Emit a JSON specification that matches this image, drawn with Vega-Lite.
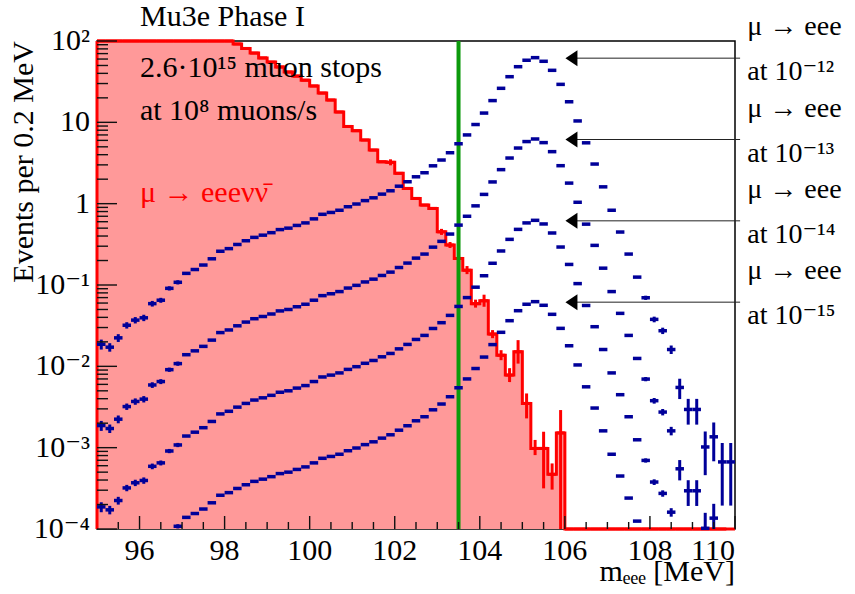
{
"$schema": "https://vega.github.io/schema/vega-lite/v6.json",
"width": 638, "height": 488,
"autosize": {"type": "none"},
"padding": {"left": 97, "top": 41, "right": 120, "bottom": 65},
"background": "white",
"config": {
  "font": "Liberation Serif, DejaVu Serif",
  "view": {"stroke": "black", "strokeWidth": 1.5}
},
"datasets": {
  "red": [
    {"lo":95.0,"hi":95.2,"n":652},{"lo":95.2,"hi":95.4,"n":577},{"lo":95.4,"hi":95.6,"n":511},{"lo":95.6,"hi":95.8,"n":452},
    {"lo":95.8,"hi":96.0,"n":400},{"lo":96.0,"hi":96.2,"n":354},{"lo":96.2,"hi":96.4,"n":313},{"lo":96.4,"hi":96.6,"n":277},
    {"lo":96.6,"hi":96.8,"n":245},{"lo":96.8,"hi":97.0,"n":217},{"lo":97.0,"hi":97.2,"n":192},{"lo":97.2,"hi":97.4,"n":170},
    {"lo":97.4,"hi":97.6,"n":150},{"lo":97.6,"hi":97.8,"n":133},{"lo":97.8,"hi":98.0,"n":118},{"lo":98.0,"hi":98.2,"n":104},
    {"lo":98.2,"hi":98.4,"n":92},{"lo":98.4,"hi":98.6,"n":81},{"lo":98.6,"hi":98.8,"n":71},{"lo":98.8,"hi":99.0,"n":62},
    {"lo":99.0,"hi":99.2,"n":55},{"lo":99.2,"hi":99.4,"n":48},{"lo":99.4,"hi":99.6,"n":41.6},{"lo":99.6,"hi":99.8,"n":37},
    {"lo":99.8,"hi":100.0,"n":33},{"lo":100.0,"hi":100.2,"n":28},{"lo":100.2,"hi":100.4,"n":22.9},{"lo":100.4,"hi":100.6,"n":18.8},
    {"lo":100.6,"hi":100.8,"n":13.4},{"lo":100.8,"hi":101.0,"n":8.9},{"lo":101.0,"hi":101.2,"n":7.9},{"lo":101.2,"hi":101.4,"n":6.06},
    {"lo":101.4,"hi":101.6,"n":4.56},{"lo":101.6,"hi":101.8,"n":3.27},{"lo":101.8,"hi":102.0,"n":3.22},{"lo":102.0,"hi":102.2,"n":2.36},
    {"lo":102.2,"hi":102.4,"n":1.54},{"lo":102.4,"hi":102.6,"n":1.16},{"lo":102.6,"hi":102.8,"n":0.96},{"lo":102.8,"hi":103.0,"n":0.875},
    {"lo":103.0,"hi":103.2,"n":0.45},{"lo":103.2,"hi":103.4,"n":0.31},{"lo":103.4,"hi":103.6,"n":0.212},{"lo":103.6,"hi":103.8,"n":0.152},
    {"lo":103.8,"hi":104.0,"n":0.059},{"lo":104.0,"hi":104.2,"n":0.064},{"lo":104.2,"hi":104.4,"n":0.0249},{"lo":104.4,"hi":104.6,"n":0.0137},
    {"lo":104.6,"hi":104.8,"n":0.0078},{"lo":104.8,"hi":105.0,"n":0.0151},{"lo":105.0,"hi":105.2,"n":0.0035},{"lo":105.2,"hi":105.4,"n":0.00098},
    {"lo":105.4,"hi":105.6,"n":0.00098},{"lo":105.6,"hi":105.8,"n":0.00047},{"lo":105.8,"hi":106.0,"n":0.00152},
    {"lo":106.0,"hi":106.2,"n":0},{"lo":106.2,"hi":106.4,"n":0},{"lo":106.4,"hi":106.6,"n":0},{"lo":106.6,"hi":106.8,"n":0},
    {"lo":106.8,"hi":107.0,"n":0},{"lo":107.0,"hi":107.2,"n":0},{"lo":107.2,"hi":107.4,"n":0},{"lo":107.4,"hi":107.6,"n":0},
    {"lo":107.6,"hi":107.8,"n":0},{"lo":107.8,"hi":108.0,"n":0},{"lo":108.0,"hi":108.2,"n":0},{"lo":108.2,"hi":108.4,"n":0},
    {"lo":108.4,"hi":108.6,"n":0},{"lo":108.6,"hi":108.8,"n":0},{"lo":108.8,"hi":109.0,"n":0},{"lo":109.0,"hi":109.2,"n":0},
    {"lo":109.2,"hi":109.4,"n":0},{"lo":109.4,"hi":109.6,"n":0},{"lo":109.6,"hi":109.8,"n":0},{"lo":109.8,"hi":110.0,"n":0}
  ],
  "rederr": [
    {"x":101.9,"el":2.96,"eh":3.51},{"x":103.1,"el":0.413,"eh":0.49},{"x":103.3,"el":0.285,"eh":0.338},
    {"x":103.5,"el":0.189,"eh":0.238},{"x":103.7,"el":0.136,"eh":0.171},{"x":103.9,"el":0.0527,"eh":0.0661},
    {"x":104.1,"el":0.054,"eh":0.076},{"x":104.3,"el":0.0222,"eh":0.0279},{"x":104.5,"el":0.0119,"eh":0.0158},
    {"x":104.7,"el":0.0064,"eh":0.0095},{"x":104.9,"el":0.0108,"eh":0.021},{"x":105.1,"el":0.00229,"eh":0.00464},
    {"x":105.3,"el":0.00081,"eh":0.001245},{"x":105.5,"el":0.000316,"eh":0.00157},{"x":105.7,"el":0.000305,"eh":0.00064},
    {"x":105.9,"el":0.00005,"eh":0.0029}
  ],
  "xmajor": [{"tick":96,"label":"96"},{"tick":98,"label":"98"},{"tick":100,"label":"100"},{"tick":102,"label":"102"},{"tick":104,"label":"104"},{"tick":106,"label":"106"},{"tick":108,"label":"108"},{"tick":110,"label":"110"}],
  "xminor": [{"tick":95.5},{"tick":96.5},{"tick":97},{"tick":97.5},{"tick":98.5},{"tick":99},{"tick":99.5},{"tick":100.5},{"tick":101},{"tick":101.5},{"tick":102.5},{"tick":103},{"tick":103.5},{"tick":104.5},{"tick":105},{"tick":105.5},{"tick":106.5},{"tick":107},{"tick":107.5},{"tick":108.5},{"tick":109},{"tick":109.5}],
  "ymajor": [{"tick":0.0001,"label":"10⁻⁴"},{"tick":0.001,"label":"10⁻³"},{"tick":0.01,"label":"10⁻²"},{"tick":0.1,"label":"10⁻¹"},{"tick":1,"label":"1"},{"tick":10,"label":"10"},{"tick":100,"label":"10²"}],
  "yminor": [
    {"tick":0.0002},{"tick":0.0003},{"tick":0.0004},{"tick":0.0005},{"tick":0.0006},{"tick":0.0007},{"tick":0.0008},{"tick":0.0009},
    {"tick":0.002},{"tick":0.003},{"tick":0.004},{"tick":0.005},{"tick":0.006},{"tick":0.007},{"tick":0.008},{"tick":0.009},
    {"tick":0.02},{"tick":0.03},{"tick":0.04},{"tick":0.05},{"tick":0.06},{"tick":0.07},{"tick":0.08},{"tick":0.09},
    {"tick":0.2},{"tick":0.3},{"tick":0.4},{"tick":0.5},{"tick":0.6},{"tick":0.7},{"tick":0.8},{"tick":0.9},
    {"tick":2},{"tick":3},{"tick":4},{"tick":5},{"tick":6},{"tick":7},{"tick":8},{"tick":9},
    {"tick":20},{"tick":30},{"tick":40},{"tick":50},{"tick":60},{"tick":70},{"tick":80},{"tick":90}
  ],
  "sig": [
    {"s":"12","x":95.1,"y":0.0187,"el":0.01608,"eh":0.02132},{"s":"12","x":95.3,"y":0.0172,"el":0.01514,"eh":0.01926},
    {"s":"12","x":95.5,"y":0.0224,"el":0.01994,"eh":0.02486},{"s":"12","x":95.7,"y":0.032,"el":0.02912,"eh":0.03488},
    {"s":"12","x":95.9,"y":0.037,"el":0.03367,"eh":0.04033},{"s":"12","x":96.1,"y":0.0395,"el":0.03595,"eh":0.04306},
    {"s":"12","x":96.3,"y":0.059,"el":0.05428,"eh":0.06372},{"s":"12","x":96.5,"y":0.065,"el":0.06045,"eh":0.06955},
    {"s":"12","x":96.7,"y":0.091,"el":0.08554,"eh":0.09646},{"s":"12","x":96.9,"y":0.108,"el":0.10152,"eh":0.11448},
    {"s":"12","x":97.1,"y":0.139},{"s":"12","x":97.3,"y":0.155},{"s":"12","x":97.5,"y":0.176},{"s":"12","x":97.7,"y":0.21},
    {"s":"12","x":97.9,"y":0.26},{"s":"12","x":98.1,"y":0.28},{"s":"12","x":98.3,"y":0.315},{"s":"12","x":98.5,"y":0.35},
    {"s":"12","x":98.7,"y":0.385},{"s":"12","x":98.9,"y":0.41},{"s":"12","x":99.1,"y":0.44},{"s":"12","x":99.3,"y":0.48},
    {"s":"12","x":99.5,"y":0.5},{"s":"12","x":99.7,"y":0.54},{"s":"12","x":99.9,"y":0.58},{"s":"12","x":100.1,"y":0.65},
    {"s":"12","x":100.3,"y":0.74},{"s":"12","x":100.5,"y":0.78},{"s":"12","x":100.7,"y":0.83},{"s":"12","x":100.9,"y":0.917},
    {"s":"12","x":101.1,"y":0.99},{"s":"12","x":101.3,"y":1.09},{"s":"12","x":101.5,"y":1.18},{"s":"12","x":101.7,"y":1.31},
    {"s":"12","x":101.9,"y":1.44},{"s":"12","x":102.1,"y":1.64},{"s":"12","x":102.3,"y":1.86},{"s":"12","x":102.5,"y":2.14},
    {"s":"12","x":102.7,"y":2.4},{"s":"12","x":102.9,"y":2.92},{"s":"12","x":103.1,"y":3.44},{"s":"12","x":103.3,"y":4.23},
    {"s":"12","x":103.5,"y":5.45},{"s":"12","x":103.7,"y":7.0},{"s":"12","x":103.9,"y":9.4},{"s":"12","x":104.1,"y":13.0},
    {"s":"12","x":104.3,"y":18.5},{"s":"12","x":104.5,"y":26.2},{"s":"12","x":104.7,"y":36.4},{"s":"12","x":104.9,"y":48.3},
    {"s":"12","x":105.1,"y":58},{"s":"12","x":105.3,"y":62.4},{"s":"12","x":105.5,"y":56.3},{"s":"12","x":105.7,"y":43.6},
    {"s":"12","x":105.9,"y":29.3},{"s":"12","x":106.1,"y":17.9},{"s":"12","x":106.3,"y":10.4},{"s":"12","x":106.5,"y":5.6},
    {"s":"12","x":106.7,"y":3.07},{"s":"12","x":106.9,"y":1.61},{"s":"12","x":107.1,"y":0.83},{"s":"12","x":107.3,"y":0.448},
    {"s":"12","x":107.5,"y":0.24},{"s":"12","x":107.7,"y":0.125},
    {"s":"12","x":107.9,"y":0.0697,"el":0.06552,"eh":0.07388},{"s":"12","x":108.1,"y":0.0378,"el":0.03478,"eh":0.04082},
    {"s":"12","x":108.3,"y":0.0274,"el":0.02493,"eh":0.02987},{"s":"12","x":108.5,"y":0.0161,"el":0.01417,"eh":0.01803},
    {"s":"12","x":108.7,"y":0.0055,"el":0.00396,"eh":0.00704},{"s":"12","x":108.9,"y":0.00295,"el":0.00192,"eh":0.00398},
    {"s":"12","x":109.1,"y":0.00295,"el":0.00192,"eh":0.00398},{"s":"12","x":109.3,"y":0.00102,"el":0.000459,"eh":0.001581},
    {"s":"12","x":109.5,"y":0.00136,"el":0.00068,"eh":0.00204},{"s":"12","x":109.7,"y":0.000668,"el":0.000194,"eh":0.001141},
    {"s":"12","x":109.9,"y":0.000668,"el":0.000194,"eh":0.001141},

    {"s":"13","x":95.1,"y":0.00187,"el":0.001608,"eh":0.002132},{"s":"13","x":95.3,"y":0.00172,"el":0.001514,"eh":0.001926},
    {"s":"13","x":95.5,"y":0.00224,"el":0.001994,"eh":0.002486},{"s":"13","x":95.7,"y":0.0032,"el":0.002912,"eh":0.003488},
    {"s":"13","x":95.9,"y":0.0037,"el":0.003367,"eh":0.004033},{"s":"13","x":96.1,"y":0.00395,"el":0.003595,"eh":0.004306},
    {"s":"13","x":96.3,"y":0.0059,"el":0.005428,"eh":0.006372},{"s":"13","x":96.5,"y":0.0065,"el":0.006045,"eh":0.006955},
    {"s":"13","x":96.7,"y":0.0091,"el":0.008554,"eh":0.009646},{"s":"13","x":96.9,"y":0.0108,"el":0.010152,"eh":0.011448},
    {"s":"13","x":97.1,"y":0.0139},{"s":"13","x":97.3,"y":0.0155},{"s":"13","x":97.5,"y":0.0176},{"s":"13","x":97.7,"y":0.021},
    {"s":"13","x":97.9,"y":0.026},{"s":"13","x":98.1,"y":0.028},{"s":"13","x":98.3,"y":0.0315},{"s":"13","x":98.5,"y":0.035},
    {"s":"13","x":98.7,"y":0.0385},{"s":"13","x":98.9,"y":0.041},{"s":"13","x":99.1,"y":0.044},{"s":"13","x":99.3,"y":0.048},
    {"s":"13","x":99.5,"y":0.05},{"s":"13","x":99.7,"y":0.054},{"s":"13","x":99.9,"y":0.058},{"s":"13","x":100.1,"y":0.065},
    {"s":"13","x":100.3,"y":0.074},{"s":"13","x":100.5,"y":0.078},{"s":"13","x":100.7,"y":0.083},{"s":"13","x":100.9,"y":0.0917},
    {"s":"13","x":101.1,"y":0.099},{"s":"13","x":101.3,"y":0.109},{"s":"13","x":101.5,"y":0.118},{"s":"13","x":101.7,"y":0.131},
    {"s":"13","x":101.9,"y":0.144},{"s":"13","x":102.1,"y":0.164},{"s":"13","x":102.3,"y":0.186},{"s":"13","x":102.5,"y":0.214},
    {"s":"13","x":102.7,"y":0.24},{"s":"13","x":102.9,"y":0.292},{"s":"13","x":103.1,"y":0.344},{"s":"13","x":103.3,"y":0.423},
    {"s":"13","x":103.5,"y":0.545},{"s":"13","x":103.7,"y":0.7},{"s":"13","x":103.9,"y":0.94},{"s":"13","x":104.1,"y":1.3},
    {"s":"13","x":104.3,"y":1.85},{"s":"13","x":104.5,"y":2.62},{"s":"13","x":104.7,"y":3.64},{"s":"13","x":104.9,"y":4.83},
    {"s":"13","x":105.1,"y":5.8},{"s":"13","x":105.3,"y":6.24},{"s":"13","x":105.5,"y":5.63},{"s":"13","x":105.7,"y":4.36},
    {"s":"13","x":105.9,"y":2.93},{"s":"13","x":106.1,"y":1.79},{"s":"13","x":106.3,"y":1.04},{"s":"13","x":106.5,"y":0.56},
    {"s":"13","x":106.7,"y":0.307},{"s":"13","x":106.9,"y":0.161},{"s":"13","x":107.1,"y":0.083},{"s":"13","x":107.3,"y":0.0448},
    {"s":"13","x":107.5,"y":0.024},{"s":"13","x":107.7,"y":0.0125},
    {"s":"13","x":107.9,"y":0.00697,"el":0.006552,"eh":0.007388},{"s":"13","x":108.1,"y":0.00378,"el":0.003478,"eh":0.004082},
    {"s":"13","x":108.3,"y":0.00274,"el":0.002493,"eh":0.002987},{"s":"13","x":108.5,"y":0.00161,"el":0.001417,"eh":0.001803},
    {"s":"13","x":108.7,"y":0.00055,"el":0.000396,"eh":0.000704},{"s":"13","x":108.9,"y":0.000295,"el":0.000192,"eh":0.000398},
    {"s":"13","x":109.1,"y":0.000295,"el":0.000192,"eh":0.000398},{"s":"13","x":109.3,"y":0.000102,"el":0.0000459,"eh":0.0001581},
    {"s":"13","x":109.5,"y":0.000136,"el":0.000068,"eh":0.000204},

    {"s":"14","x":95.1,"y":0.000187,"el":0.0001608,"eh":0.0002132},{"s":"14","x":95.3,"y":0.000172,"el":0.0001514,"eh":0.0001926},
    {"s":"14","x":95.5,"y":0.000224,"el":0.0001994,"eh":0.0002486},{"s":"14","x":95.7,"y":0.00032,"el":0.0002912,"eh":0.0003488},
    {"s":"14","x":95.9,"y":0.00037,"el":0.0003367,"eh":0.0004033},{"s":"14","x":96.1,"y":0.000395,"el":0.0003595,"eh":0.0004306},
    {"s":"14","x":96.3,"y":0.00059,"el":0.0005428,"eh":0.0006372},{"s":"14","x":96.5,"y":0.00065,"el":0.0006045,"eh":0.0006955},
    {"s":"14","x":96.7,"y":0.00091,"el":0.0008554,"eh":0.0009646},{"s":"14","x":96.9,"y":0.00108,"el":0.0010152,"eh":0.0011448},
    {"s":"14","x":97.1,"y":0.00139},{"s":"14","x":97.3,"y":0.00155},{"s":"14","x":97.5,"y":0.00176},{"s":"14","x":97.7,"y":0.0021},
    {"s":"14","x":97.9,"y":0.0026},{"s":"14","x":98.1,"y":0.0028},{"s":"14","x":98.3,"y":0.00315},{"s":"14","x":98.5,"y":0.0035},
    {"s":"14","x":98.7,"y":0.00385},{"s":"14","x":98.9,"y":0.0041},{"s":"14","x":99.1,"y":0.0044},{"s":"14","x":99.3,"y":0.0048},
    {"s":"14","x":99.5,"y":0.005},{"s":"14","x":99.7,"y":0.0054},{"s":"14","x":99.9,"y":0.0058},{"s":"14","x":100.1,"y":0.0065},
    {"s":"14","x":100.3,"y":0.0074},{"s":"14","x":100.5,"y":0.0078},{"s":"14","x":100.7,"y":0.0083},{"s":"14","x":100.9,"y":0.00917},
    {"s":"14","x":101.1,"y":0.0099},{"s":"14","x":101.3,"y":0.0109},{"s":"14","x":101.5,"y":0.0118},{"s":"14","x":101.7,"y":0.0131},
    {"s":"14","x":101.9,"y":0.0144},{"s":"14","x":102.1,"y":0.0164},{"s":"14","x":102.3,"y":0.0186},{"s":"14","x":102.5,"y":0.0214},
    {"s":"14","x":102.7,"y":0.024},{"s":"14","x":102.9,"y":0.0292},{"s":"14","x":103.1,"y":0.0344},{"s":"14","x":103.3,"y":0.0423},
    {"s":"14","x":103.5,"y":0.0545},{"s":"14","x":103.7,"y":0.07},{"s":"14","x":103.9,"y":0.094},{"s":"14","x":104.1,"y":0.13},
    {"s":"14","x":104.3,"y":0.185},{"s":"14","x":104.5,"y":0.262},{"s":"14","x":104.7,"y":0.364},{"s":"14","x":104.9,"y":0.483},
    {"s":"14","x":105.1,"y":0.58},{"s":"14","x":105.3,"y":0.624},{"s":"14","x":105.5,"y":0.563},{"s":"14","x":105.7,"y":0.436},
    {"s":"14","x":105.9,"y":0.293},{"s":"14","x":106.1,"y":0.179},{"s":"14","x":106.3,"y":0.104},{"s":"14","x":106.5,"y":0.056},
    {"s":"14","x":106.7,"y":0.0307},{"s":"14","x":106.9,"y":0.0161},{"s":"14","x":107.1,"y":0.0083},{"s":"14","x":107.3,"y":0.00448},
    {"s":"14","x":107.5,"y":0.0024},{"s":"14","x":107.7,"y":0.00125},
    {"s":"14","x":107.9,"y":0.000697,"el":0.0006552,"eh":0.0007388},{"s":"14","x":108.1,"y":0.000378,"el":0.0003478,"eh":0.0004082},
    {"s":"14","x":108.3,"y":0.000274,"el":0.0002493,"eh":0.0002987},{"s":"14","x":108.5,"y":0.000161,"el":0.0001417,"eh":0.0001803},

    {"s":"15","x":96.9,"y":0.000108,"el":0.00010152,"eh":0.00011448},
    {"s":"15","x":97.1,"y":0.000139},{"s":"15","x":97.3,"y":0.000155},{"s":"15","x":97.5,"y":0.000176},{"s":"15","x":97.7,"y":0.00021},
    {"s":"15","x":97.9,"y":0.00026},{"s":"15","x":98.1,"y":0.00028},{"s":"15","x":98.3,"y":0.000315},{"s":"15","x":98.5,"y":0.00035},
    {"s":"15","x":98.7,"y":0.000385},{"s":"15","x":98.9,"y":0.00041},{"s":"15","x":99.1,"y":0.00044},{"s":"15","x":99.3,"y":0.00048},
    {"s":"15","x":99.5,"y":0.0005},{"s":"15","x":99.7,"y":0.00054},{"s":"15","x":99.9,"y":0.00058},{"s":"15","x":100.1,"y":0.00065},
    {"s":"15","x":100.3,"y":0.00074},{"s":"15","x":100.5,"y":0.00078},{"s":"15","x":100.7,"y":0.00083},{"s":"15","x":100.9,"y":0.000917},
    {"s":"15","x":101.1,"y":0.00099},{"s":"15","x":101.3,"y":0.00109},{"s":"15","x":101.5,"y":0.00118},{"s":"15","x":101.7,"y":0.00131},
    {"s":"15","x":101.9,"y":0.00144},{"s":"15","x":102.1,"y":0.00164},{"s":"15","x":102.3,"y":0.00186},{"s":"15","x":102.5,"y":0.00214},
    {"s":"15","x":102.7,"y":0.0024},{"s":"15","x":102.9,"y":0.00292},{"s":"15","x":103.1,"y":0.00344},{"s":"15","x":103.3,"y":0.00423},
    {"s":"15","x":103.5,"y":0.00545},{"s":"15","x":103.7,"y":0.007},{"s":"15","x":103.9,"y":0.0094},{"s":"15","x":104.1,"y":0.013},
    {"s":"15","x":104.3,"y":0.0185},{"s":"15","x":104.5,"y":0.0262},{"s":"15","x":104.7,"y":0.0364},{"s":"15","x":104.9,"y":0.0483},
    {"s":"15","x":105.1,"y":0.058},{"s":"15","x":105.3,"y":0.0624},{"s":"15","x":105.5,"y":0.0563},{"s":"15","x":105.7,"y":0.0436},
    {"s":"15","x":105.9,"y":0.0293},{"s":"15","x":106.1,"y":0.0179},{"s":"15","x":106.3,"y":0.0104},{"s":"15","x":106.5,"y":0.0056},
    {"s":"15","x":106.7,"y":0.00307},{"s":"15","x":106.9,"y":0.00161},{"s":"15","x":107.1,"y":0.00083},{"s":"15","x":107.3,"y":0.000448},
    {"s":"15","x":107.5,"y":0.00024},{"s":"15","x":107.7,"y":0.000125}
  ],
  "arrows": [
    {"peak": 61.5, "label": "at 10⁻¹²"},
    {"peak": 6.15, "label": "at 10⁻¹³"},
    {"peak": 0.615, "label": "at 10⁻¹⁴"},
    {"peak": 0.0615, "label": "at 10⁻¹⁵"}
  ]
},
"layer": [
  {
    "data": {"name": "red"},
    "mark": {"type": "area", "interpolate": "step-after", "color": "#ff9999", "opacity": 1},
    "encoding": {
      "x": {"field": "lo", "type": "quantitative", "scale": {"domain": [95, 110], "nice": false, "zero": false}, "axis": null},
      "y": {"field": "n", "type": "quantitative", "scale": {"type": "log", "domain": [0.0001, 100], "nice": false, "clamp": true}, "axis": null},
      "y2": {"datum": 0.0001}
    }
  },
  {
    "data": {"name": "red"},
    "mark": {"type": "line", "interpolate": "step-after", "color": "#ff0000", "strokeWidth": 3},
    "encoding": {
      "x": {"field": "lo", "type": "quantitative", "axis": null},
      "y": {"field": "n", "type": "quantitative", "axis": null}
    }
  },
  {
    "data": {"name": "red"},
    "mark": {"type": "rule", "color": "#ff0000", "strokeWidth": 3},
    "encoding": {
      "x": {"field": "lo", "type": "quantitative", "axis": null},
      "x2": {"field": "hi"},
      "y": {"field": "n", "type": "quantitative", "axis": null}
    }
  },
  {
    "data": {"name": "red"},
    "transform": [{"filter": "datum.lo == 95"}],
    "mark": {"type": "rule", "color": "#ff0000", "strokeWidth": 3},
    "encoding": {
      "x": {"field": "lo", "type": "quantitative", "axis": null},
      "y": {"field": "n", "type": "quantitative", "axis": null},
      "y2": {"datum": 0.0001}
    }
  },
  {
    "data": {"name": "rederr"},
    "mark": {"type": "rule", "color": "#ff0000", "strokeWidth": 3},
    "encoding": {
      "x": {"field": "x", "type": "quantitative", "axis": null},
      "y": {"field": "el", "type": "quantitative", "axis": null},
      "y2": {"field": "eh"}
    }
  },
  {
    "data": {"values": [{}]},
    "mark": {"type": "rule", "color": "#0c9a0c", "strokeWidth": 4},
    "encoding": {
      "x": {"datum": 103.5, "type": "quantitative", "axis": null},
      "y": {"datum": 0.0001, "type": "quantitative", "axis": null},
      "y2": {"datum": 100}
    }
  },
  {
    "data": {"name": "sig"},
    "transform": [{"filter": "isValid(datum.el)"}],
    "mark": {"type": "rule", "color": "#000099", "strokeWidth": 3},
    "encoding": {
      "x": {"field": "x", "type": "quantitative", "axis": null},
      "y": {"field": "el", "type": "quantitative", "axis": null},
      "y2": {"field": "eh"}
    }
  },
  {
    "data": {"name": "sig"},
    "mark": {"type": "tick", "orient": "horizontal", "size": 8.5, "thickness": 3.5, "color": "#000099", "opacity": 1},
    "encoding": {
      "x": {"field": "x", "type": "quantitative", "axis": null},
      "y": {"field": "y", "type": "quantitative", "axis": null}
    }
  },
  {
    "data": {"name": "arrows"},
    "mark": {"type": "rule", "color": "#222222", "strokeWidth": 1},
    "encoding": {
      "x": {"datum": 106.1, "type": "quantitative", "axis": null},
      "x2": {"datum": 110.12},
      "y": {"field": "peak", "type": "quantitative", "axis": null}
    }
  },
  {
    "data": {"name": "arrows"},
    "mark": {"type": "point", "shape": "M-1,0L1,-1.33L1,1.33Z", "filled": true, "color": "black", "size": 144, "opacity": 1},
    "encoding": {
      "x": {"datum": 106.155, "type": "quantitative", "axis": null},
      "y": {"field": "peak", "type": "quantitative", "axis": null}
    }
  },
  {
    "data": {"name": "arrows"},
    "mark": {"type": "text", "text": "μ → eee", "align": "left", "baseline": "alphabetic", "fontSize": 28, "color": "black", "dy": -23},
    "encoding": {
      "x": {"datum": 110.29, "type": "quantitative", "axis": null},
      "y": {"field": "peak", "type": "quantitative", "axis": null}
    }
  },
  {
    "data": {"name": "arrows"},
    "mark": {"type": "text", "align": "left", "baseline": "alphabetic", "fontSize": 28, "color": "black", "dy": 22},
    "encoding": {
      "x": {"datum": 110.29, "type": "quantitative", "axis": null},
      "y": {"field": "peak", "type": "quantitative", "axis": null},
      "text": {"field": "label"}
    }
  },
  {
    "data": {"values": [{}]},
    "mark": {"type": "text", "text": "Mu3e Phase I", "align": "left", "baseline": "alphabetic", "fontSize": 30, "color": "black", "dy": -15},
    "encoding": {
      "x": {"datum": 96.01, "type": "quantitative", "axis": null},
      "y": {"datum": 100, "type": "quantitative", "axis": null}
    }
  },
  {
    "data": {"values": [{}]},
    "mark": {"type": "text", "text": "2.6·10¹⁵ muon stops", "align": "left", "baseline": "alphabetic", "fontSize": 30, "color": "black"},
    "encoding": {
      "x": {"datum": 96.01, "type": "quantitative", "axis": null},
      "y": {"datum": 36.4, "type": "quantitative", "axis": null}
    }
  },
  {
    "data": {"values": [{}]},
    "mark": {"type": "text", "text": "at 10⁸ muons/s", "align": "left", "baseline": "alphabetic", "fontSize": 30, "color": "black"},
    "encoding": {
      "x": {"datum": 96.01, "type": "quantitative", "axis": null},
      "y": {"datum": 10.67, "type": "quantitative", "axis": null}
    }
  },
  {
    "data": {"values": [{}]},
    "mark": {"type": "text", "text": "μ → eeeνν̄", "align": "left", "baseline": "alphabetic", "fontSize": 30, "color": "#ff0000"},
    "encoding": {
      "x": {"datum": 96.01, "type": "quantitative", "axis": null},
      "y": {"datum": 1.055, "type": "quantitative", "axis": null}
    }
  },
  {
    "data": {"name": "xmajor"},
    "transform": [{"filter": "datum.tick < 110"}],
    "mark": {"type": "text", "align": "center", "baseline": "top", "fontSize": 30, "color": "black", "dy": 7},
    "encoding": {
      "x": {"field": "tick", "type": "quantitative", "axis": null},
      "y": {"datum": 0.0001, "type": "quantitative", "axis": null},
      "text": {"field": "label"}
    }
  },
  {
    "data": {"name": "xmajor"},
    "transform": [{"filter": "datum.tick == 110"}],
    "mark": {"type": "text", "align": "right", "baseline": "top", "fontSize": 30, "color": "black", "dy": 7},
    "encoding": {
      "x": {"field": "tick", "type": "quantitative", "axis": null},
      "y": {"datum": 0.0001, "type": "quantitative", "axis": null},
      "text": {"field": "label"}
    }
  },
  {
    "data": {"name": "ymajor"},
    "mark": {"type": "text", "align": "right", "baseline": "middle", "fontSize": 30, "color": "black", "dx": -7},
    "encoding": {
      "x": {"datum": 95, "type": "quantitative", "axis": null},
      "y": {"field": "tick", "type": "quantitative", "axis": null},
      "text": {"field": "label"}
    }
  },
  {
    "data": {"values": [{}]},
    "mark": {"type": "text", "text": "mₑₑₑ [MeV]", "align": "right", "baseline": "alphabetic", "fontSize": 30, "color": "black", "dy": 52},
    "encoding": {
      "x": {"datum": 110, "type": "quantitative", "axis": null},
      "y": {"datum": 0.0001, "type": "quantitative", "axis": null}
    }
  },
  {
    "data": {"values": [{}]},
    "mark": {"type": "text", "text": "Events per 0.2 MeV", "align": "right", "baseline": "alphabetic", "fontSize": 30, "color": "black", "angle": 270, "dy": -64},
    "encoding": {
      "x": {"datum": 95, "type": "quantitative", "axis": null},
      "y": {"datum": 100, "type": "quantitative", "axis": null}
    }
  },
  {
    "data": {"name": "xmajor"},
    "mark": {"type": "rule", "color": "#111111", "strokeWidth": 1.4},
    "encoding": {
      "x": {"field": "tick", "type": "quantitative", "axis": null},
      "y": {"datum": 0.0001, "type": "quantitative", "axis": null},
      "y2": {"datum": 0.0001445}
    }
  },
  {
    "data": {"name": "xminor"},
    "mark": {"type": "rule", "color": "#111111", "strokeWidth": 1.4},
    "encoding": {
      "x": {"field": "tick", "type": "quantitative", "axis": null},
      "y": {"datum": 0.0001, "type": "quantitative", "axis": null},
      "y2": {"datum": 0.0001219}
    }
  },
  {
    "data": {"name": "ymajor"},
    "mark": {"type": "rule", "color": "#111111", "strokeWidth": 1.4},
    "encoding": {
      "x": {"datum": 95, "type": "quantitative", "axis": null},
      "x2": {"datum": 95.47},
      "y": {"field": "tick", "type": "quantitative", "axis": null}
    }
  },
  {
    "data": {"name": "yminor"},
    "mark": {"type": "rule", "color": "#111111", "strokeWidth": 1.4},
    "encoding": {
      "x": {"datum": 95, "type": "quantitative", "axis": null},
      "x2": {"datum": 95.259},
      "y": {"field": "tick", "type": "quantitative", "axis": null}
    }
  }
]
}
